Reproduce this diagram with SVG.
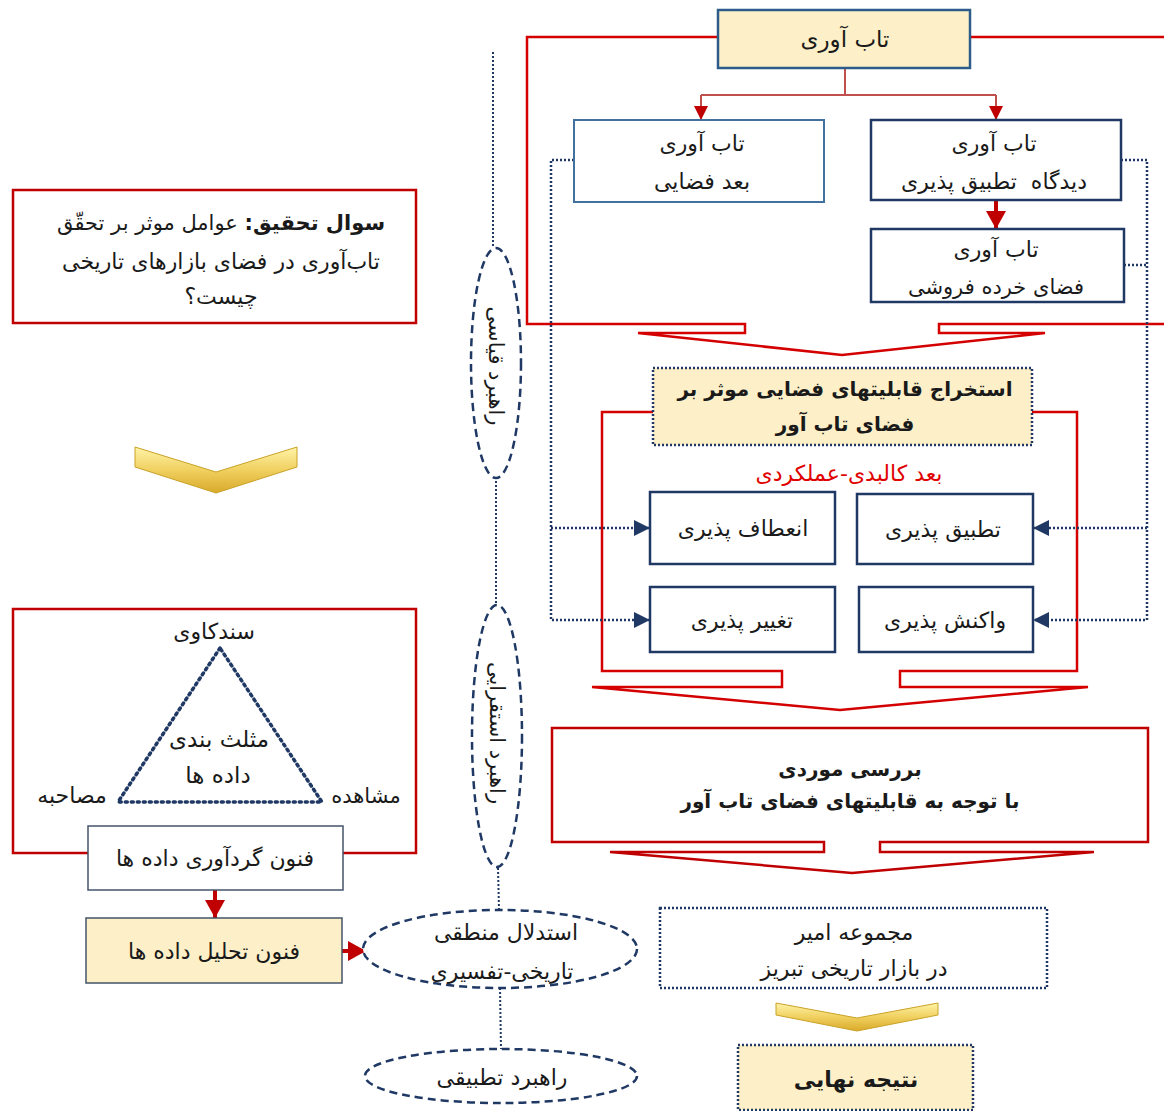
<svg xmlns="http://www.w3.org/2000/svg" width="1164" height="1111" viewBox="0 0 1164 1111">
<defs>
<style>
.fa{font-family:"DejaVu Sans","Noto Sans",sans-serif;fill:#1a1a1a;direction:rtl;text-anchor:middle}
.b{font-weight:bold}
.navy{fill:#fff;stroke:#1f3864;stroke-width:2.5}
.blue{fill:#fff;stroke:#41719c;stroke-width:2}
.gray{stroke:#44546a;stroke-width:1.5}
.cream{fill:#fdf0c8}
.dotbox{stroke:#1f3864;stroke-width:2.5;stroke-dasharray:2 2}
.redbox{fill:#fff;stroke:#c00000;stroke-width:2.5}
.brk{fill:none;stroke:#d40000;stroke-width:2.5;stroke-linejoin:miter}
.ell{fill:#fff;stroke:#1f3864;stroke-width:2.5;stroke-dasharray:8 5}
.dl{fill:none;stroke:#1f3864;stroke-width:2.5;stroke-dasharray:2 2}
.cl{fill:none;stroke:#1f3864;stroke-width:2;stroke-dasharray:2 2}
.thin{fill:none;stroke:#c0504d;stroke-width:2}
.thick{fill:none;stroke:#c00000;stroke-width:4}
.gold{fill:url(#gold);stroke:#c9a227;stroke-width:1}
</style>
<linearGradient id="gold" x1="0" y1="0" x2="0" y2="1">
<stop offset="0" stop-color="#fff4a8"/>
<stop offset="0.5" stop-color="#f0d060"/>
<stop offset="1" stop-color="#d9aa2a"/>
</linearGradient>
<marker id="ra" markerUnits="userSpaceOnUse" markerWidth="14" markerHeight="14" refX="14" refY="7" orient="auto">
<path d="M0,0 L14,7 L0,14 Z" fill="#c00000"/>
</marker>
<marker id="rb" markerUnits="userSpaceOnUse" markerWidth="18" markerHeight="20" refX="18" refY="10" orient="auto">
<path d="M0,0 L18,10 L0,20 Z" fill="#c00000"/>
</marker>
<marker id="na" markerUnits="userSpaceOnUse" markerWidth="16" markerHeight="16" refX="16" refY="8" orient="auto">
<path d="M0,0 L16,8 L0,16 Z" fill="#1f3864"/>
</marker>
</defs>
<rect width="1164" height="1111" fill="#fff"/>

<g id="connectors">
<path class="brk" d="M718,37 L527,37 L527,324 L745,324 L745,333 L638,333 L842,355 L1045,333 L939,333 L939,324 L1164,324"/>
<path class="brk" d="M970,37 L1164,37"/>
<path class="brk" d="M653,412 L602,412 L602,671 L782,671 L782,687 L592,687 L840,710 L1088,687 L900,687 L900,671 L1077,671 L1077,412 L1032,412"/>
<path class="thin" d="M845,68 L845,95 M701,95 L996,95"/>
<path class="thin" d="M701,95 L701,120" marker-end="url(#ra)"/>
<path class="thin" d="M996,95 L996,120" marker-end="url(#ra)"/>
<path class="thick" d="M996,200 L996,229" marker-end="url(#rb)"/>
<path class="dl" d="M574,160 L551,160 L551,620 L650,620" marker-end="url(#na)"/>
<path class="dl" d="M551,528 L650,528" marker-end="url(#na)"/>
<path class="dl" d="M1121,160 L1147,160 L1147,620 L1033,620" marker-end="url(#na)"/>
<path class="dl" d="M1124,265 L1147,265"/>
<path class="dl" d="M1147,528 L1033,528" marker-end="url(#na)"/>
<path class="cl" d="M493,52 L493,248 M496,477 L496,605 M498,868 L499,910 M500,988 L501,1050"/>
<path class="thick" d="M215,890 L215,918" marker-end="url(#rb)"/>
<path class="thick" d="M342,951 L366,951" marker-end="url(#rb)"/>
</g>

<g id="n-top">
<rect x="718" y="10" width="252" height="58" class="cream" stroke="#2e5c8a" stroke-width="2.5"/>
<text class="fa" x="845" y="47" font-size="23">تاب آوری</text>
</g>
<g id="n-spatial">
<rect x="574" y="120" width="250" height="82" class="blue"/>
<text class="fa" x="702" y="151" font-size="22">تاب آوری</text>
<text class="fa" x="702" y="189" font-size="22">بعد فضایی</text>
</g>
<g id="n-adapt">
<rect x="871" y="120" width="250" height="80" class="navy"/>
<text class="fa" x="994" y="151" font-size="22">تاب آوری</text>
<text class="fa" x="994" y="189" font-size="22" xml:space="preserve">دیدگاه  تطبیق پذیری</text>
</g>
<g id="n-retail">
<rect x="871" y="229" width="253" height="73" class="navy"/>
<text class="fa" x="996" y="257" font-size="22">تاب آوری</text>
<text class="fa" x="996" y="294" font-size="21">فضای خرده فروشی</text>
</g>
<g id="n-extract">
<rect x="653" y="368" width="379" height="77" class="cream dotbox"/>
<text class="fa b" x="845" y="396" font-size="20">استخراج قابلیتهای فضایی موثر بر</text>
<text class="fa b" x="845" y="431" font-size="20">فضای تاب آور</text>
</g>
<g id="label-dim">
<text class="fa" x="849" y="481" font-size="22" style="fill:#e00000">بعد کالبدی-عملکردی</text>
</g>
<g id="n-flex">
<rect x="650" y="492" width="185" height="72" class="navy"/>
<text class="fa" x="743" y="536" font-size="22">انعطاف پذیری</text>
</g>
<g id="n-adaptability">
<rect x="857" y="494" width="176" height="70" class="navy"/>
<text class="fa" x="943" y="537" font-size="22">تطبیق پذیری</text>
</g>
<g id="n-change">
<rect x="650" y="587" width="185" height="65" class="navy"/>
<text class="fa" x="742" y="628" font-size="22">تغییر پذیری</text>
</g>
<g id="n-react">
<rect x="859" y="587" width="174" height="65" class="navy"/>
<text class="fa" x="945" y="628" font-size="22">واکنش پذیری</text>
</g>
<g id="n-case">
<path class="redbox" d="M824,842 L552,842 L552,728 L1148,728 L1148,842 L880,842 L880,852 L1094,852 L852,873 L610,852 L824,852 Z"/>
<text class="fa b" x="850" y="776" font-size="20">بررسی موردی</text>
<text class="fa b" x="850" y="808" font-size="20">با توجه به قابلیتهای فضای تاب آور</text>
</g>
<g id="n-amir">
<rect x="660" y="908" width="387" height="80" fill="#fff" class="dotbox"/>
<text class="fa" x="854" y="940" font-size="22">مجموعه امیر</text>
<text class="fa" x="854" y="976" font-size="22">در بازار تاریخی تبریز</text>
</g>
<g id="chev-right">
<path class="gold" d="M776,1003 L857,1018 L938,1003 L938,1015 L857,1031 L776,1015 Z"/>
</g>
<g id="n-result">
<rect x="738" y="1045" width="235" height="65" class="cream dotbox"/>
<text class="fa b" x="856" y="1087" font-size="22">نتیجه نهایی</text>
</g>

<g id="n-question">
<rect x="13" y="190" width="403" height="133" class="redbox"/>
<text class="fa" x="221" y="230" font-size="21"><tspan class="b">سوال تحقیق:</tspan> عوامل موثر بر تحقّق</text>
<text class="fa" x="221" y="269" font-size="22">تاب‌آوری در فضای بازارهای تاریخی</text>
<text class="fa" x="221" y="304" font-size="22">چیست؟</text>
</g>
<g id="chev-left">
<path class="gold" d="M135,447 L216,472 L297,447 L297,467 L216,493 L135,467 Z"/>
</g>
<g id="n-triangulation">
<rect x="13" y="609" width="403" height="244" class="redbox"/>
<path d="M220,648 L118,802 L322,802 Z" fill="none" stroke="#1f3864" stroke-width="3.5" stroke-dasharray="2 4" stroke-linecap="round"/>
<text class="fa" x="214" y="639" font-size="22">سندکاوی</text>
<text class="fa" x="219" y="747" font-size="23">مثلث بندی</text>
<text class="fa" x="218" y="783" font-size="23">داده ها</text>
<text class="fa" x="72" y="803" font-size="22">مصاحبه</text>
<text class="fa" x="366" y="803" font-size="21">مشاهده</text>
</g>
<g id="n-collect">
<rect x="88" y="826" width="255" height="64" fill="#fff" class="gray"/>
<text class="fa" x="215" y="866" font-size="22">فنون گردآوری داده ها</text>
</g>
<g id="n-analysis">
<rect x="86" y="918" width="256" height="65" class="cream gray"/>
<text class="fa" x="214" y="959" font-size="22">فنون تحلیل داده ها</text>
</g>

<g id="n-deductive">
<ellipse cx="496" cy="363" rx="25" ry="115" class="ell"/>
<text class="fa" font-size="21" transform="translate(489,366) rotate(90)">راهبرد قیاسی</text>
</g>
<g id="n-inductive">
<ellipse cx="497" cy="736" rx="25" ry="131" class="ell"/>
<text class="fa" font-size="21" transform="translate(490,733) rotate(90)">راهبرد استقرایی</text>
</g>
<g id="n-reasoning">
<ellipse cx="500" cy="949" rx="137" ry="39" class="ell"/>
<text class="fa" x="506" y="940" font-size="22">استدلال منطقی</text>
<text class="fa" x="502" y="979" font-size="22">تاریخی-تفسیری</text>
</g>
<g id="n-comparative">
<ellipse cx="501" cy="1076" rx="136" ry="27" class="ell"/>
<text class="fa" x="502" y="1085" font-size="22">راهبرد تطبیقی</text>
</g>
</svg>
